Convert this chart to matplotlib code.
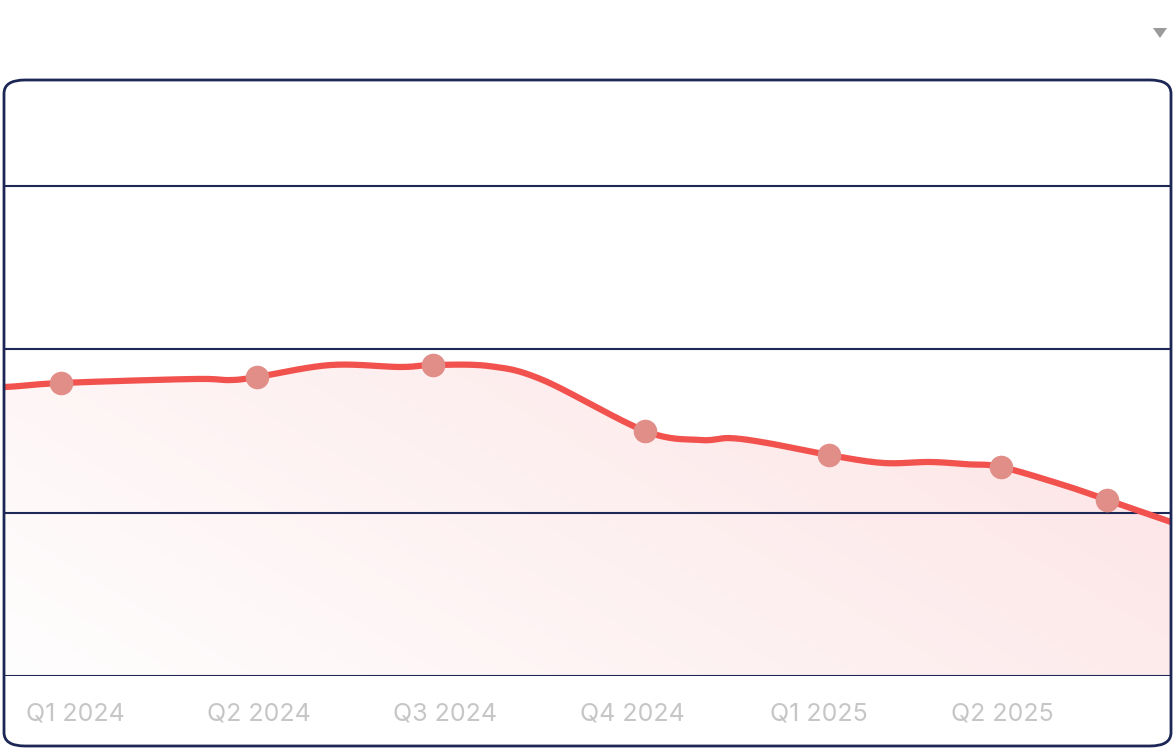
import numpy as np
import matplotlib
matplotlib.use("Agg")
import matplotlib.pyplot as plt
from matplotlib.patches import FancyBboxPatch, Polygon
from matplotlib.colors import LinearSegmentedColormap

# ---- data ----
# x in months from the left edge of the chart
line_x = [0.0, 0.92, 3.06, 3.66, 4.09, 5.28, 6.41, 6.94, 7.86, 8.72, 10.37,
          11.26, 11.75, 12.35, 13.35, 14.22, 14.98, 15.58, 16.13, 17.14, 17.85, 18.88]
line_y = [35.35, 35.84, 36.33, 36.2, 36.57, 38.04, 37.8, 38.04, 37.9, 36.2, 29.97,
          28.87, 29.1, 28.5, 27.03, 26.06, 26.18, 25.9, 25.57, 23.36, 21.53, 18.84]
marker_x = [0.92, 4.09, 6.94, 10.37, 13.35, 16.13, 17.85]
marker_y = [35.84, 36.57, 38.04, 29.97, 27.03, 25.57, 21.53]
tick_pos = [1.15, 4.12, 7.14, 10.17, 13.18, 16.15]
tick_labels = ["Q1 2024", "Q2 2024", "Q3 2024", "Q4 2024", "Q1 2025", "Q2 2025"]
grid_vals = [0, 20, 40, 60]


def catmull_rom(xs, ys, n=30):
    xs = np.asarray(xs, float); ys = np.asarray(ys, float)
    px = np.concatenate([[2 * xs[0] - xs[1]], xs, [2 * xs[-1] - xs[-2]]])
    py = np.concatenate([[ys[0]], ys, [2 * ys[-1] - ys[-2]]])
    ox, oy = [], []
    for i in range(1, len(px) - 2):
        t = np.linspace(0, 1, n, endpoint=False)
        for arr, out in ((px, ox), (py, oy)):
            p0, p1, p2, p3 = arr[i - 1], arr[i], arr[i + 1], arr[i + 2]
            out.extend(0.5 * ((2 * p1) + (-p0 + p2) * t + (2 * p0 - 5 * p1 + 4 * p2 - p3) * t ** 2
                              + (-p0 + 3 * p1 - 3 * p2 + p3) * t ** 3))
    ox.append(xs[-1]); oy.append(ys[-1])
    return np.array(ox), np.array(oy)


W, H = 1173, 749
fig = plt.figure(figsize=(W / 100, H / 100), dpi=100)
plt.rcParams['font.family'] = ['Inter', 'DejaVu Sans']

ax_left, ax_right = 4, 1171
ax_top, ax_bottom = 80, 676
ax = fig.add_axes([ax_left / W, (H - ax_bottom) / H, (ax_right - ax_left) / W, (ax_bottom - ax_top) / H])
ymax = (676 - 80) / 163.5 * 20
xmax = 18.88
ax.set_xlim(0, xmax)
ax.set_ylim(0, ymax)
ax.axis('off')

sx, sy = catmull_rom(line_x, line_y)

# gradient fill
cmap = LinearSegmentedColormap.from_list("g", ["#ffffff", "#fde6e7"])
gx, gy = np.meshgrid(np.linspace(0, 1, 300), np.linspace(0, 1, 200))
grad = np.clip(0.75 * gx + 0.35 * gy + 0.05, 0, 1)
im = ax.imshow(grad, extent=[0, xmax, 0, 40], origin='lower', cmap=cmap,
               vmin=0, vmax=1, aspect='auto', zorder=1)
poly = Polygon(np.column_stack([np.concatenate([[0], sx, [xmax]]),
                                np.concatenate([[0], sy, [0]])]),
               closed=True, transform=ax.transData, facecolor='none', edgecolor='none')
ax.add_patch(poly)
im.set_clip_path(poly)

for g in grid_vals:
    ax.axhline(g, color="#1e2857", lw=1.5, zorder=2)

ax.plot(sx, sy, color="#f2524e", lw=4.5, solid_capstyle='butt', zorder=3)
ax.plot(marker_x, marker_y, 'o', ms=17, color="#e18e89", mec='none', zorder=4)

for p, lab in zip(tick_pos, tick_labels):
    ax.text(p, -(714 - 676) / 163.5 * 20, lab, ha='center', va='center',
            fontsize=18, color="#c6c6c6", clip_on=False)

# rounded border
box = FancyBboxPatch((4 / W, (H - 746) / H), (1171 - 4) / W, (746 - 80) / H,
                     boxstyle="round,pad=0,rounding_size=0.018", transform=fig.transFigure,
                     facecolor='none', edgecolor="#1c2755", lw=2, zorder=10)
fig.patches.append(box)

# dropdown triangle
fig.patches.append(Polygon([[1153 / W, (H - 28) / H], [1167 / W, (H - 28) / H], [1160 / W, (H - 38) / H]],
                           closed=True, transform=fig.transFigure, facecolor="#9a9a9a", edgecolor='none'))

fig.savefig("out.png", dpi=100)
